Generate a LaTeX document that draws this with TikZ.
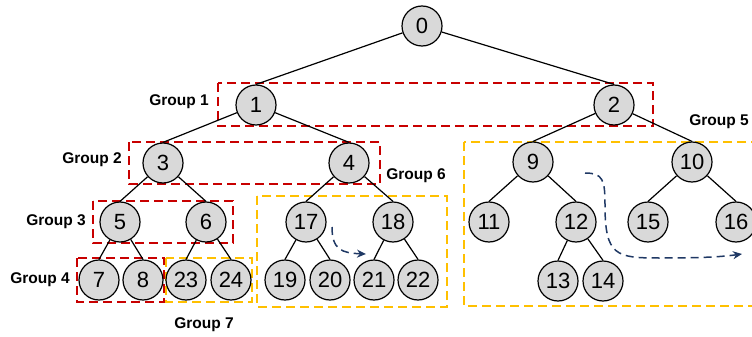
\documentclass[tikz,border=0pt]{standalone}
\usepackage{fontspec}
\setmainfont{Liberation Sans}
\usetikzlibrary{arrows.meta}

\definecolor{grpred}{RGB}{200,0,0}
\definecolor{grpyellow}{RGB}{255,192,0}
\definecolor{flowblue}{RGB}{31,56,100}
\definecolor{vtxgray}{RGB}{217,217,217}

\tikzset{
  vtx/.style={circle, draw=black, line width=1.2pt, fill=vtxgray, minimum size=40pt, inner sep=0pt, font=\fontsize{22}{22}\selectfont},
  grplabel/.style={font=\bfseries\fontsize{15.5}{15.5}\selectfont},
  redgrp/.style={draw=grpred, line width=1.4pt, dash pattern=on 9pt off 5pt},
  yellowgrp/.style={draw=grpyellow, line width=1.4pt, dash pattern=on 9pt off 5pt},
  flow/.style={draw=flowblue, line width=1.5pt, dash pattern=on 8pt off 5pt, -{Stealth[length=9pt,width=8pt]}}
}

\begin{document}
\begin{tikzpicture}[x=1pt, y=-1pt]
\useasboundingbox (0,0) rectangle (752,337);
% Draw the group boxes
\draw[redgrp] (218,83) rectangle (653,126);
\draw[redgrp] (129,142) rectangle (380,184);
\draw[redgrp] (93,201) rectangle (233,243);
\draw[redgrp] (77,258) rectangle (164,302);
\draw[yellowgrp] (166,258) rectangle (252,302);
\draw[yellowgrp] (257,196) rectangle (447,307);
\draw[yellowgrp] (464,142) rectangle (770,306);
% Give names to the vertices
\node[vtx] at (422, 26)  (n0)  {0};
\node[vtx] at (256, 105) (n1)  {1};
\node[vtx] at (614, 105) (n2)  {2};
\node[vtx] at (163, 163) (n3)  {3};
\node[vtx] at (349, 163) (n4)  {4};
\node[vtx] at (120, 222) (n5)  {5};
\node[vtx] at (206, 222) (n6)  {6};
\node[vtx] at (99, 280)  (n7)  {7};
\node[vtx] at (143, 280) (n8)  {8};
\node[vtx] at (533, 162) (n9)  {9};
\node[vtx] at (692, 162) (n10) {10};
\node[vtx] at (489, 222) (n11) {11};
\node[vtx] at (576, 222) (n12) {12};
\node[vtx] at (558, 281) (n13) {13};
\node[vtx] at (603, 281) (n14) {14};
\node[vtx] at (648, 222) (n15) {15};
\node[vtx] at (736, 222) (n16) {16};
\node[vtx] at (306, 222) (n17) {17};
\node[vtx] at (393, 222) (n18) {18};
\node[vtx] at (285, 280) (n19) {19};
\node[vtx] at (330, 280) (n20) {20};
\node[vtx] at (374, 280) (n21) {21};
\node[vtx] at (418, 280) (n22) {22};
\node[vtx] at (186, 280) (n23) {23};
\node[vtx] at (231, 280) (n24) {24};
% Tree edges
\draw[line width=1.2pt] (n0) -- (n1.north) (n0) -- (n2.north)
  (n1) -- (n3.north) (n1) -- (n4.north) (n2) -- (n9.north) (n2) -- (n10.north)
  (n3) -- (n5.north) (n3) -- (n6.north) (n5) -- (n7.north) (n5) -- (n8.north)
  (n6) -- (n23.north) (n6) -- (n24.north) (n4) -- (n17.north) (n4) -- (n18.north)
  (n17) -- (n19.north) (n17) -- (n20.north) (n18) -- (n21.north) (n18) -- (n22.north)
  (n9) -- (n11.north) (n9) -- (n12.north) (n12) -- (n13.north) (n12) -- (n14.north)
  (n10) -- (n15.north) (n10) -- (n16.north);
% Explanations
\node[grplabel] at (179, 102) (g1) {Group 1};
\node[grplabel] at (92, 160)  (g2) {Group 2};
\node[grplabel] at (56, 222)  (g3) {Group 3};
\node[grplabel] at (40, 280)  (g4) {Group 4};
\node[grplabel] at (719, 122) (g5) {Group 5};
\node[grplabel] at (416, 176) (g6) {Group 6};
\node[grplabel] at (204, 325) (g7) {Group 7};
% Traversal arrows
\coordinate (f1s) at (332, 227);
\coordinate (f1e) at (366, 254);
\draw[flow] (f1s) .. controls (332, 250) and (342, 253) .. (f1e);
\coordinate (f2s) at (585, 173);
\coordinate (f2e) at (742, 254);
\draw[flow] (f2s) .. controls (603, 173) and (605, 180) .. (605, 205)
  .. controls (605, 256) and (616, 258) .. (660, 258)
  .. controls (700, 258) and (720, 257) .. (f2e);
\end{tikzpicture}
\end{document}
